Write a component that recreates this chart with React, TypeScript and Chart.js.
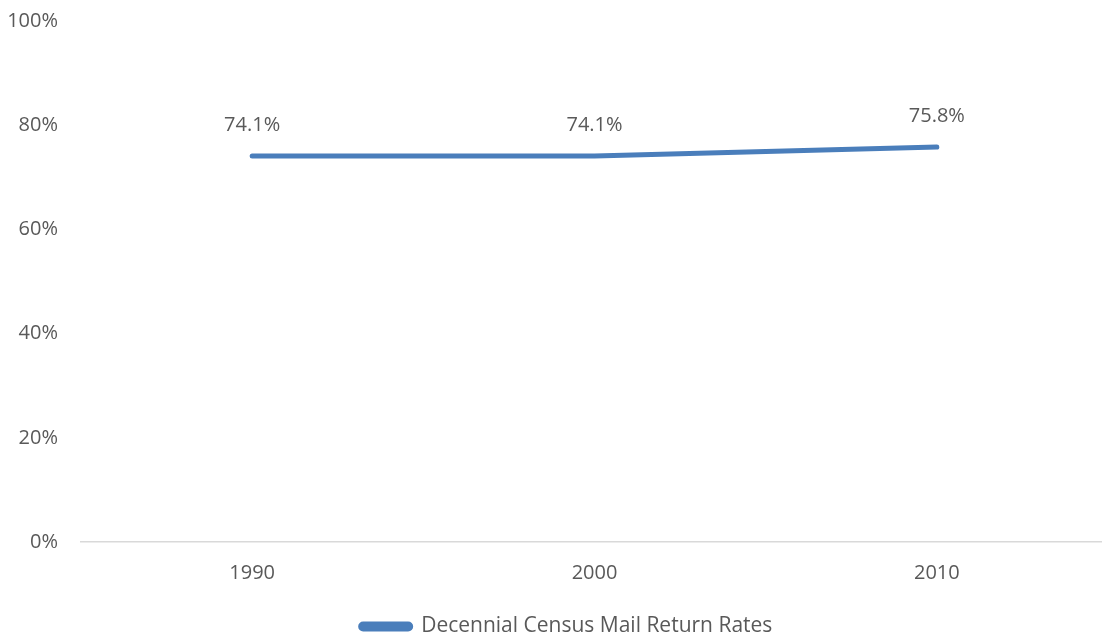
import React, { useEffect, useRef } from "react";
import { Chart, registerables } from "chart.js";

Chart.register(...registerables);

const categories = ["1990", "2000", "2010"];
const seriesName = "Decennial Census Mail Return Rates";
const returnRates = [74.1, 74.1, 75.8];
const yTicks = [0, 20, 40, 60, 80, 100];

const FONT = "'Open Sans', sans-serif";
const FS = 20;
const LEGEND_FS = 21;
const GREY = "#595959";
const BLUE = "#4a7ebb";

const dataLabelPlugin = {
  id: "dataLabels",
  afterDatasetsDraw(chart: any) {
    const ctx = chart.ctx;
    ctx.save();
    ctx.font = `${FS}px ${FONT}`;
    ctx.fillStyle = GREY;
    ctx.textAlign = "center";
    ctx.textBaseline = "middle";
    chart.data.datasets.forEach((ds: any, i: number) => {
      const meta = chart.getDatasetMeta(i);
      meta.data.forEach((pt: any, j: number) => {
        ctx.fillText(`${ds.data[j].toFixed(1)}%`, pt.x, pt.y - 31);
      });
    });
    ctx.restore();
  },
};

const legendShiftPlugin = {
  id: "legendShift",
  afterLayout(chart: any) {
    const lg = chart.legend;
    if (!lg) return;
    lg.left += 25;
    lg.top += 10;
    lg.bottom += 10;
  },
};

export default function App() {
  const ref = useRef<HTMLCanvasElement>(null);
  useEffect(() => {
    document.body.style.margin = "0";
    document.body.style.overflow = "hidden";
    const chart = new Chart(ref.current!, {
      type: "line",
      data: {
        labels: categories,
        datasets: [
          {
            label: seriesName,
            data: returnRates,
            borderColor: BLUE,
            backgroundColor: BLUE,
            borderWidth: 5,
            borderCapStyle: "round",
            borderJoinStyle: "round",
            pointRadius: 0,
            tension: 0,
          },
        ],
      },
      options: {
        animation: false,
        responsive: false,
        layout: { padding: { top: 21, left: 0, right: 0, bottom: 0 } },
        plugins: {
          tooltip: { enabled: false },
          legend: {
            position: "bottom",
            labels: {
              font: { family: FONT, size: LEGEND_FS },
              color: GREY,
              boxWidth: 50,
              boxHeight: 5,
              padding: 2,
              useBorderRadius: true,
              borderRadius: 2.5,
            },
          },
        },
        scales: {
          x: {
            offset: true,
            grid: { display: false, drawTicks: false },
            border: { display: true, color: "#d9d9d9", width: 1.5 },
            ticks: { font: { family: FONT, size: FS }, color: GREY, padding: 19 },
            afterFit(scale: any) {
              scale.height = 62;
            },
          },
          y: {
            min: 0,
            max: 100,
            afterBuildTicks(scale: any) {
              scale.ticks = yTicks.map((v) => ({ value: v }));
            },
            grid: { display: false, drawTicks: false },
            border: { display: false },
            ticks: {
              font: { family: FONT, size: FS },
              color: GREY,
              padding: 23,
              callback: (v: any) => `${v}%`,
            },
            afterFit(scale: any) {
              scale.width = 81;
              scale.paddingTop = 0;
              scale.paddingBottom = 0;
            },
          },
        },
      },
      plugins: [dataLabelPlugin, legendShiftPlugin],
    });
    return () => chart.destroy();
  }, []);
  return <canvas ref={ref} width={1108} height={637} style={{ display: "block" }} />;
}
